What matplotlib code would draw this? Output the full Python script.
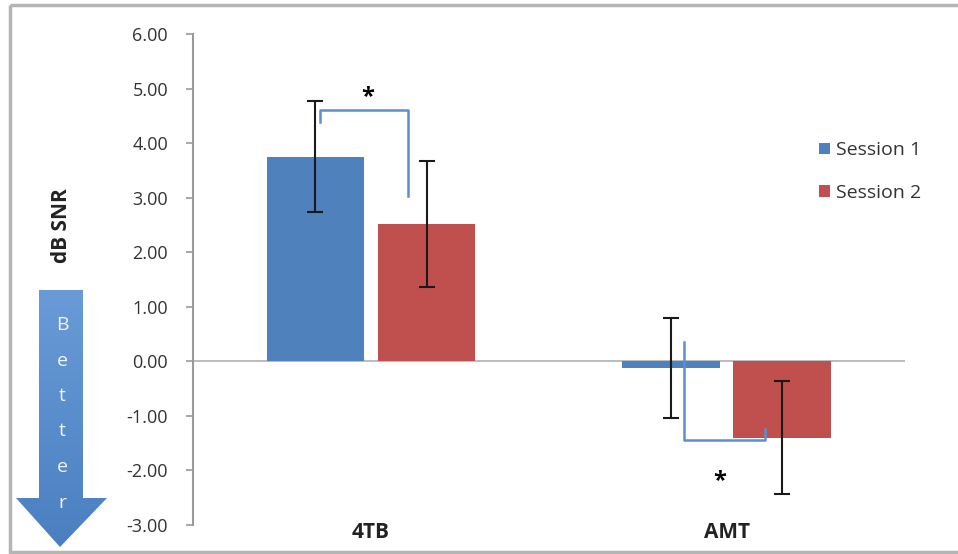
import numpy as np
import matplotlib.pyplot as plt
from matplotlib.patches import Polygon, Rectangle
from matplotlib.colors import LinearSegmentedColormap

# data
categories = ["4TB", "AMT"]
session1 = [3.75, -0.12]
session1_err = [1.02, 0.92]
session2 = [2.52, -1.40]
session2_err = [1.15, 1.04]
series_names = ["Session 1", "Session 2"]
blue = "#4F81BD"
red = "#C0504D"

plt.rcParams['font.family'] = ['Open Sans', 'DejaVu Sans']

fig = plt.figure(figsize=(9.58, 5.54), dpi=100)
ax = fig.add_axes([0.2015, 0.0523, 0.743, 0.8863])

x = np.arange(len(categories))
w = 0.275
off = 0.156
ax.bar(x - off, session1, w, color=blue, label=series_names[0], zorder=2)
ax.bar(x + off, session2, w, color=red, label=series_names[1], zorder=2)
ax.errorbar(x - off, session1, yerr=session1_err, fmt='none', ecolor='#1a1a1a',
            elinewidth=1.5, capsize=6, capthick=1.5, zorder=3)
ax.errorbar(x + off, session2, yerr=session2_err, fmt='none', ecolor='#1a1a1a',
            elinewidth=1.5, capsize=6, capthick=1.5, zorder=3)

ax.axhline(0, color='#b0b0b0', lw=1.2, zorder=1)
ax.set_xlim(-0.5, 1.5)
ax.set_ylim(-3, 6)
ax.set_yticks(np.arange(-3, 7, 1))
ax.set_yticklabels([f"{v:.2f}" for v in np.arange(-3, 7, 1)], fontsize=13, color='#333333')
ax.set_xticks(x)
ax.set_xticklabels(categories, fontsize=15, fontweight='bold', color='#222222')
ax.tick_params(axis='x', length=0, pad=-2)
ax.tick_params(axis='y', length=5, color='#999999', width=1.2, pad=13)
for s in ['top', 'right', 'bottom']:
    ax.spines[s].set_visible(False)
ax.spines['left'].set_color('#999999')
ax.spines['left'].set_linewidth(1.5)

# significance brackets
bc = '#5b8fd0'
ax.plot([x[0] - 0.143, x[0] - 0.143, x[0] + 0.104, x[0] + 0.104],
        [4.38, 4.6, 4.6, 3.04], color=bc, lw=1.8, zorder=4)
ax.text(x[0] - 0.008, 4.85, "*", ha='center', va='center', fontsize=17, fontweight='bold')
ax.plot([x[1] - 0.121, x[1] - 0.121, x[1] + 0.107, x[1] + 0.107],
        [0.35, -1.45, -1.45, -1.24], color=bc, lw=1.8, zorder=4)
ax.text(x[1] - 0.02, -2.2, "*", ha='center', va='center', fontsize=17, fontweight='bold')

leg = ax.legend(loc='upper left', bbox_to_anchor=(0.855, 0.817), frameon=False,
                fontsize=14, handlelength=0.55, handleheight=0.55, handletextpad=0.3,
                labelspacing=1.25)
for t in leg.get_texts():
    t.set_color('#333333')

# overlay in pixel coords: border, arrow and y label
ov = fig.add_axes([0, 0, 1, 1], zorder=-1)
ov.set_xlim(0, 958)
ov.set_ylim(554, 0)
ov.axis('off')
ov.add_patch(Rectangle((10, 5), 960, 547, fill=False, ec='#b5b5b5', lw=2.5))

arrow_pts = [(39, 290), (83, 290), (83, 498), (107, 498), (60, 547), (16, 498), (39, 498)]
arrow = Polygon(arrow_pts, closed=True, fc='none', ec='none')
ov.add_patch(arrow)
cmap = LinearSegmentedColormap.from_list('arr', ['#6a9bd8', '#4a7fc0'])
grad = np.linspace(0, 1, 256).reshape(-1, 1)
im = ov.imshow(grad, extent=(16, 107, 547, 290), cmap=cmap, aspect='auto', zorder=1)
im.set_clip_path(arrow)
for i, ch in enumerate("Better"):
    ov.text(62, 325 + i * 35.5, ch, color='#f0f4fa', fontsize=14, ha='center', va='center', zorder=2)

ov.text(62, 226, "dB SNR", rotation=90, fontsize=15, fontweight='bold',
        ha='center', va='center', color='#222222')

fig.savefig("out.png", dpi=100)
